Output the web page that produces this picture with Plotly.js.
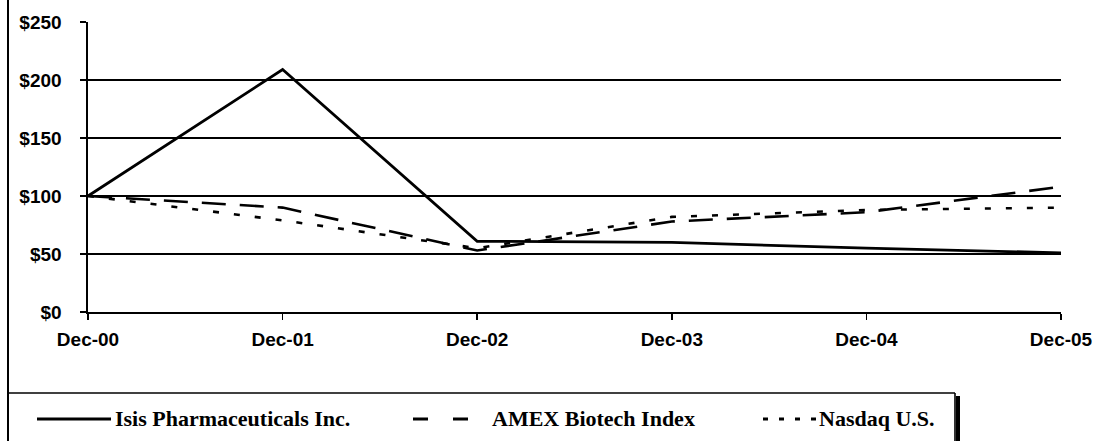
<!DOCTYPE html>
<html>
<head>
<meta charset="utf-8">
<script src="https://cdn.plot.ly/plotly-3.0.1.min.js"></script>
<style>
html,body{margin:0;padding:0;background:#fff;}
#chart{width:1093px;height:441px;}
</style>
</head>
<body>
<div id="chart"></div>
<script>
// ---- data ----
const categories = ["Dec-00", "Dec-01", "Dec-02", "Dec-03", "Dec-04", "Dec-05"];
const isisValues = [100, 209, 61, 60, 55, 51];
const amexValues = [100, 90, 53, 78, 86, 108];
const nasdaqValues = [100, 79, 55, 82, 88, 90];
const seriesNames = ["Isis Pharmaceuticals Inc.", "AMEX Biotech Index", "Nasdaq U.S."];
const yTickValues = [0, 50, 100, 150, 200, 250];
const yTickLabels = ["$0", "$50", "$100", "$150", "$200", "$250"];

// ---- geometry helpers (pixel -> paper) ----
const W = 1093, H = 441;
const M = {l: 88, r: 32, t: 22, b: 129};
const PW = W - M.l - M.r, PH = H - M.t - M.b;
const px = x => (x - M.l) / PW;
const py = y => (H - M.b - y) / PH;

const lineStyles = [
  {color: "#000", width: 2.8, dash: "solid"},
  {color: "#000", width: 2.6, dash: "24px,14px"},
  {color: "#000", width: 2.6, dash: "6px,15px"}
];

const traces = [isisValues, amexValues, nasdaqValues].map((vals, i) => ({
  type: "scatter",
  mode: "lines",
  x: categories,
  y: vals,
  name: seriesNames[i],
  line: lineStyles[i],
  showlegend: false,
  hoverinfo: "x+y+name"
}));

const shapes = [
  // outer frame left line
  {type: "line", xref: "paper", yref: "paper", x0: px(8), x1: px(8), y0: py(0), y1: py(441), line: {color: "#000", width: 2}},
  // legend box top
  {type: "line", xref: "paper", yref: "paper", x0: px(8), x1: px(955), y0: py(393), y1: py(393), line: {color: "#000", width: 1.6}},
  // legend box right (with shadow)
  {type: "line", xref: "paper", yref: "paper", x0: px(955), x1: px(955), y0: py(393), y1: py(441), line: {color: "#000", width: 1.6}},
  {type: "line", xref: "paper", yref: "paper", x0: px(958), x1: px(958), y0: py(396), y1: py(441), line: {color: "#000", width: 4}},
  // legend samples
  {type: "line", xref: "paper", yref: "paper", x0: px(37), x1: px(111), y0: py(419), y1: py(419), line: {color: "#000", width: 2.8}},
  {type: "line", xref: "paper", yref: "paper", x0: px(413), x1: px(468), y0: py(419), y1: py(419), line: {color: "#000", width: 2.8, dash: "15px,25px"}},
  {type: "line", xref: "paper", yref: "paper", x0: px(763), x1: px(818), y0: py(419), y1: py(419), line: {color: "#000", width: 2.8, dash: "5px,11px"}}
];

const legendFont = {family: "Liberation Serif, Times New Roman, serif", size: 22, color: "#000", weight: "bold"};
const annotations = [
  {text: seriesNames[0], x: px(113), xanchor: "left"},
  {text: seriesNames[1], x: px(490), xanchor: "left"},
  {text: seriesNames[2], x: px(817), xanchor: "left"}
].map(a => Object.assign(a, {xref: "paper", yref: "paper", y: py(418), yanchor: "middle", showarrow: false, font: legendFont}));

const tickFont = {family: "Liberation Sans, Arial, sans-serif", size: 19, color: "#000", weight: "bold"};

const layout = {
  width: W, height: H,
  margin: M,
  paper_bgcolor: "#fff",
  plot_bgcolor: "#fff",
  showlegend: false,
  xaxis: {
    type: "category",
    range: [0, 5],
    showgrid: false,
    zeroline: false,
    showline: true,
    linecolor: "#000",
    linewidth: 1.6,
    ticks: "outside",
    ticklen: 6,
    tickwidth: 1.6,
    tickcolor: "#000",
    tickfont: tickFont,
    ticklabelstandoff: 4,
    fixedrange: true
  },
  yaxis: {
    range: [0, 250],
    tickvals: yTickValues,
    ticktext: yTickLabels,
    showgrid: true,
    gridcolor: "#000",
    gridwidth: 1.4,
    zeroline: false,
    showline: true,
    linecolor: "#000",
    linewidth: 1.6,
    ticks: "outside",
    ticklen: 6,
    tickwidth: 1.6,
    tickcolor: "#000",
    tickfont: tickFont,
    ticklabelstandoff: 15,
    fixedrange: true
  },
  shapes: shapes,
  annotations: annotations
};

Plotly.newPlot("chart", traces, layout, {displayModeBar: false, staticPlot: true});
</script>
</body>
</html>
